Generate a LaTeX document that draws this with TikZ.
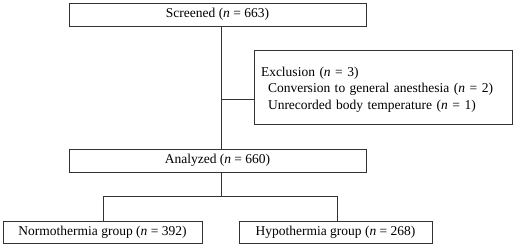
\documentclass[tikz,border=0pt]{standalone}
\usepackage{fontspec}
\setmainfont{Liberation Serif}
\begin{document}
\begin{tikzpicture}[x=1pt,y=-1pt,
  txt/.style={inner sep=0pt,font=\fontsize{13.5}{16.5}\selectfont},
  box/.style={txt,draw=black!80,line width=0.9pt},
  conn/.style={draw=black!80,line width=0.9pt}]
\useasboundingbox (0,0) rectangle (516,245);
\node[box,minimum width=297pt,minimum height=23pt] (scr) at (217.5,14.5) {Screened (\textit{n} = 663)};
\node[box,minimum width=258pt,minimum height=74pt] (exc) at (383,87) {};
\node[txt,align=left,text width=250pt] (exct) at (386,89.5)
  {Exclusion (\textit{n} = 3)\\
   \hspace*{7pt}Conversion to general anesthesia (\textit{n} = 2)\\
   \hspace*{7pt}Unrecorded body temperature (\textit{n} = 1)};
\node[box,minimum width=297pt,minimum height=23pt] (ana) at (217.5,160.5) {Analyzed (\textit{n} = 660)};
\node[box,minimum width=199pt,minimum height=22pt] (nor) at (102.5,232) {Normothermia group (\textit{n} = 392)};
\node[box,minimum width=193pt,minimum height=22pt] (hyp) at (335.5,232) {Hypothermia group (\textit{n} = 268)};
\coordinate (j1) at (221,99);
\coordinate (j2) at (221,196);
\draw[conn] (scr.south -| j1) -- (ana.north -| j1);
\draw[conn] (j1) -- (j1 -| exc.west);
\draw[conn] (ana.south -| j2) -- (j2);
\draw[conn] (103,196) coordinate (bl) -- (337,196) coordinate (br);
\draw[conn] (bl) -- (nor.north -| bl);
\draw[conn] (br) -- (hyp.north -| br);
\end{tikzpicture}
\end{document}
